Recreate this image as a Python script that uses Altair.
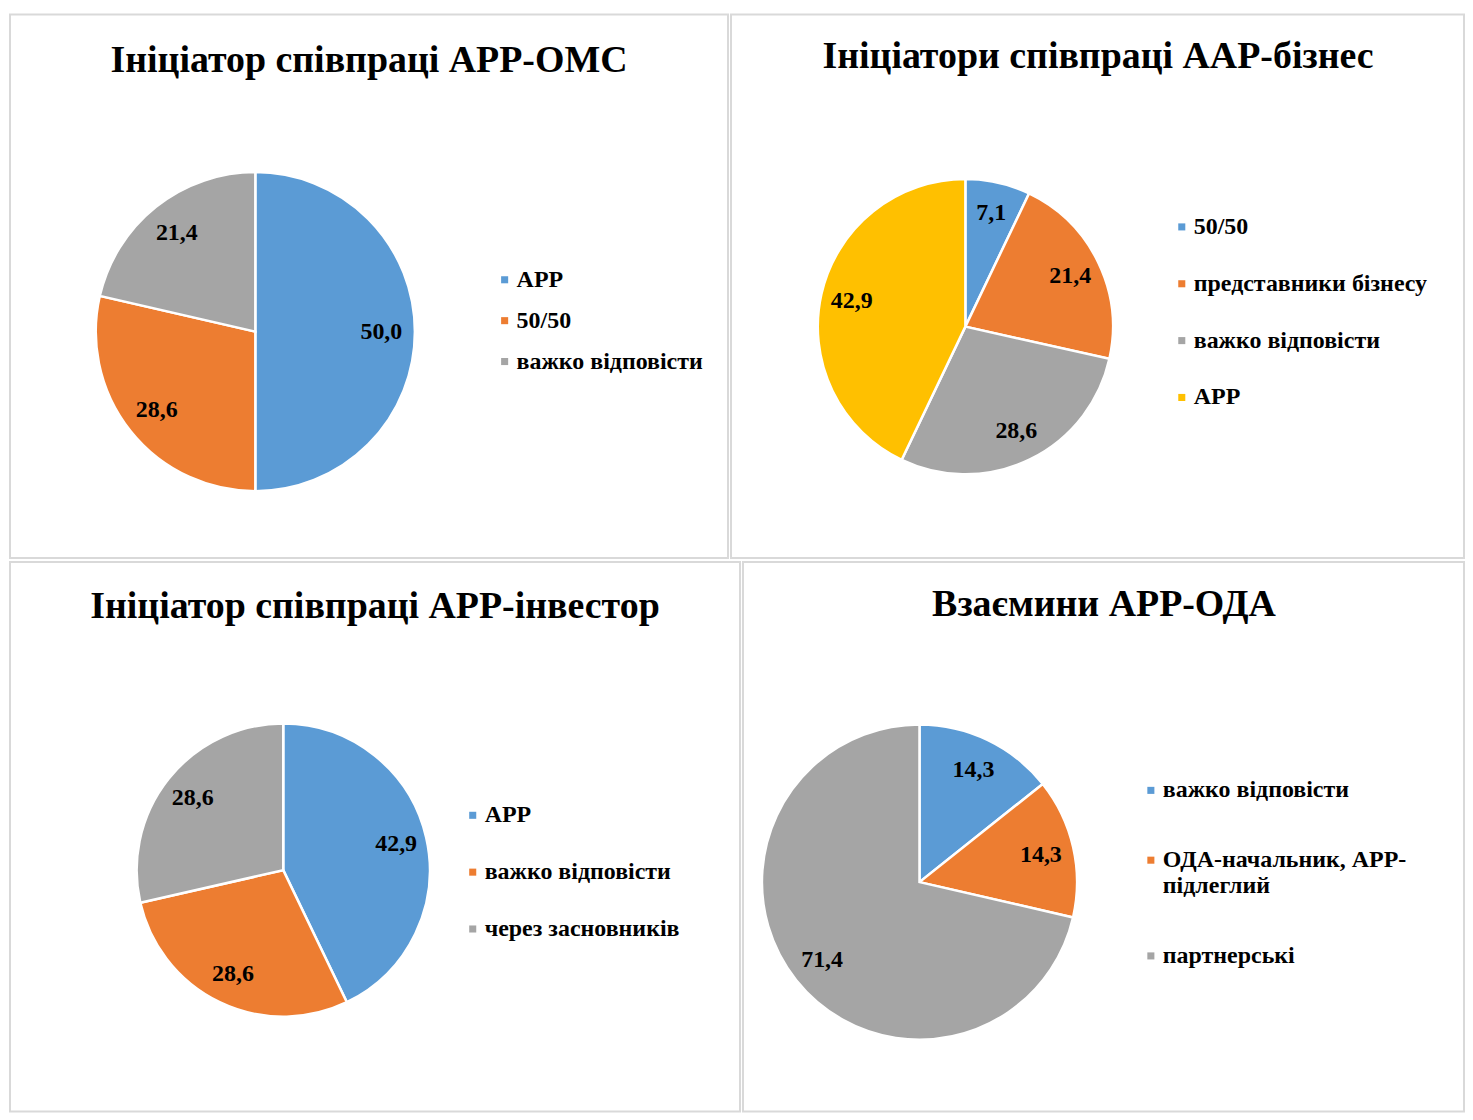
import altair as alt
import pandas as pd

FONT = "Liberation Serif"
BLUE, ORANGE, GRAY, YELLOW = "#5B9BD5", "#ED7D31", "#A5A5A5", "#FFC000"

title1 = "Ініціатор співпраці АРР-ОМС"
cats1 = ["АРР", "50/50", "важко відповісти"]
vals1 = [50.0, 28.6, 21.4]
cols1 = [BLUE, ORANGE, GRAY]

title2 = "Ініціатори співпраці ААР-бізнес"
cats2 = ["50/50", "представники бізнесу", "важко відповісти", "АРР"]
vals2 = [7.1, 21.4, 28.6, 42.9]
cols2 = [BLUE, ORANGE, GRAY, YELLOW]

title3 = "Ініціатор співпраці АРР-інвестор"
cats3 = ["АРР", "важко відповісти", "через засновників"]
vals3 = [42.9, 28.6, 28.6]
cols3 = [BLUE, ORANGE, GRAY]

title4 = "Взаємини АРР-ОДА"
cats4 = ["важко відповісти", "ОДА-начальник, АРР-підлеглий", "партнерські"]
vals4 = [14.3, 14.3, 71.4]
cols4 = [BLUE, ORANGE, GRAY]


def panel(title, cats, vals, colors, w, h, cx, cy, r, tx, ty, lx, ly, rowpad, label_expr=None):
    df = pd.DataFrame({"cat": cats, "val": vals, "idx": list(range(len(cats)))})
    base = alt.Chart(df).transform_calculate(
        lbl="replace(format(datum.val, '.1f'), '.', ',')"
    )
    leg_kw = dict(
        title=None, orient="none", legendX=lx, legendY=ly, padding=0,
        symbolType="square", symbolSize=50, symbolStrokeWidth=0,
        labelFont=FONT, labelFontSize=24, labelFontWeight="bold",
        labelColor="black", rowPadding=rowpad, labelLimit=600, labelOffset=0,
    )
    if label_expr:
        leg_kw["labelExpr"] = label_expr
    arc = base.mark_arc(radius=r, stroke="white", strokeWidth=2.5).encode(
        theta=alt.Theta("val:Q", stack=True),
        color=alt.Color("cat:N", sort=cats,
                        scale=alt.Scale(domain=cats, range=colors),
                        legend=alt.Legend(**leg_kw)),
        order=alt.Order("idx:Q"),
        x=alt.value(cx), y=alt.value(cy),
    )
    txt = base.mark_text(radius=r * 0.79, font=FONT, fontSize=24,
                         fontWeight="bold", color="black").encode(
        theta=alt.Theta("val:Q", stack=True),
        detail="cat:N",
        order=alt.Order("idx:Q"),
        text="lbl:N",
        x=alt.value(cx), y=alt.value(cy),
    )
    ttl = alt.Chart(pd.DataFrame({"t": [title]})).mark_text(
        font=FONT, fontSize=38, fontWeight="bold", color="black",
        align="center", baseline="alphabetic",
    ).encode(text="t:N", x=alt.value(tx), y=alt.value(ty))
    return alt.layer(arc, txt, ttl).properties(width=w, height=h)


p1 = panel(title1, cats1, vals1, cols1, 720, 545, 246, 318, 160, 360, 58, 484, 254, 17)
p2 = panel(title2, cats2, vals2, cols2, 735, 545, 235, 313, 148, 368, 54, 440, 201, 33)
p3 = panel(title3, cats3, vals3, cols3, 732, 551, 274, 309, 147, 366, 56, 452, 242, 33)
p4 = panel(title4, cats4, vals4, cols4, 723, 551, 177, 321, 158, 362, 54, 397, 217, 46,
           label_expr="datum.label == 'ОДА-начальник, АРР-підлеглий' ? ['ОДА-начальник, АРР-', 'підлеглий'] : datum.label")

row1 = alt.hconcat(p1, p2, spacing=1).resolve_scale(color="independent", theta="independent")
row2 = alt.hconcat(p3, p4, spacing=1).resolve_scale(color="independent", theta="independent")

chart = alt.vconcat(row1, row2, spacing=2).resolve_scale(
    color="independent", theta="independent"
).properties(
    padding={"left": 1, "top": 4, "right": 0, "bottom": 0},
    background="white",
).configure_view(stroke="#D9D9D9", strokeWidth=2)

chart.save("out.html", embed_options={"renderer": "svg", "actions": False})
